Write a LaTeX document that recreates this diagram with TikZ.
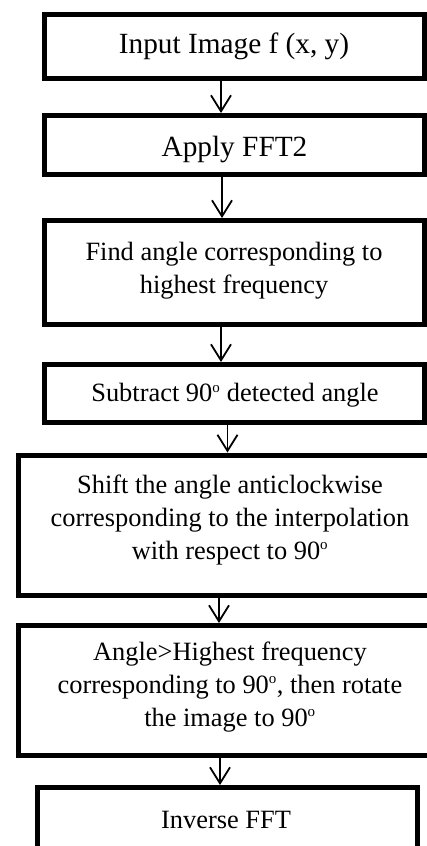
\documentclass[tikz,border=0pt]{standalone}
\usepackage{fontspec}
\setmainfont{Liberation Serif}
\usetikzlibrary{arrows.meta}
\newcommand\degsup{\textsuperscript{\fontsize{15}{15}\selectfont o}}
\tikzset{
  box/.style={draw, line width=5pt, rectangle, inner sep=0pt},
  bigtxt/.style={font=\fontsize{29.3}{36}\selectfont, inner sep=0pt, anchor=base},
  txt/.style={font=\fontsize{26.4}{33}\selectfont, align=center, inner sep=0pt, anchor=base},
  arr/.style={line width=1.8pt, -{Straight Barb[length=16pt,width=20pt]}}
}
\begin{document}
\begin{tikzpicture}[x=1pt,y=-1pt]
\clip (0,0) rectangle (427,846);
\fill[white] (0,0) rectangle (427,846);
% boxes
\node[box, minimum width=380pt, minimum height=64.5pt] (b1) at (234,46.25) {};
\node[box, minimum width=380pt, minimum height=59pt]   (b2) at (234,145) {};
\node[box, minimum width=380pt, minimum height=104pt]  (b3) at (234,272.5) {};
\node[box, minimum width=379.5pt, minimum height=58pt] (b4) at (234.25,393.5) {};
\node[box, minimum width=423pt, minimum height=140.5pt] (b5) at (230,525.25) {};
\node[box, minimum width=423pt, minimum height=130pt]  (b6) at (230,690.5) {};
\node[box, minimum width=380pt, minimum height=92.5pt] (b7) at (227.5,833.75) {};
% texts (base anchor = baseline of last line)
\node[bigtxt] (t1) at (234,53.3) {Input Image f (x, y)};
\node[bigtxt] (t2) at (234.5,156.5) {Apply FFT2};
\node[txt] (t3) at (234,293) {Find angle corresponding to\\highest frequency};
\node[txt] (t4) at (235,401.5) {Subtract 90\degsup{} detected angle};
\node[txt] (t5) at (230,559) {Shift the angle anticlockwise\\corresponding to the interpolation\\with respect to 90\degsup};
\node[txt] (t6) at (230,726) {Angle>Highest frequency\\corresponding to 90\degsup, then rotate\\the image to 90\degsup};
\node[txt] (t7) at (226,828) {Inverse FFT};
% arrow columns
\coordinate (x1) at (221,0);
\coordinate (x2) at (222,0);
\coordinate (x3) at (221,0);
\coordinate (x4) at (227.5,0);
\coordinate (x5) at (219,0);
\coordinate (x6) at (220,0);
\draw[arr] (b1.south -| x1) -- (b2.north -| x1);
\draw[arr] (b2.south -| x2) -- (b3.north -| x2);
\draw[arr] (b3.south -| x3) -- (b4.north -| x3);
\draw[arr] (b4.south -| x4) -- (b5.north -| x4);
\draw[arr] (b5.south -| x5) -- (b6.north -| x5);
\draw[arr] (b6.south -| x6) -- (b7.north -| x6);
\end{tikzpicture}
\end{document}
